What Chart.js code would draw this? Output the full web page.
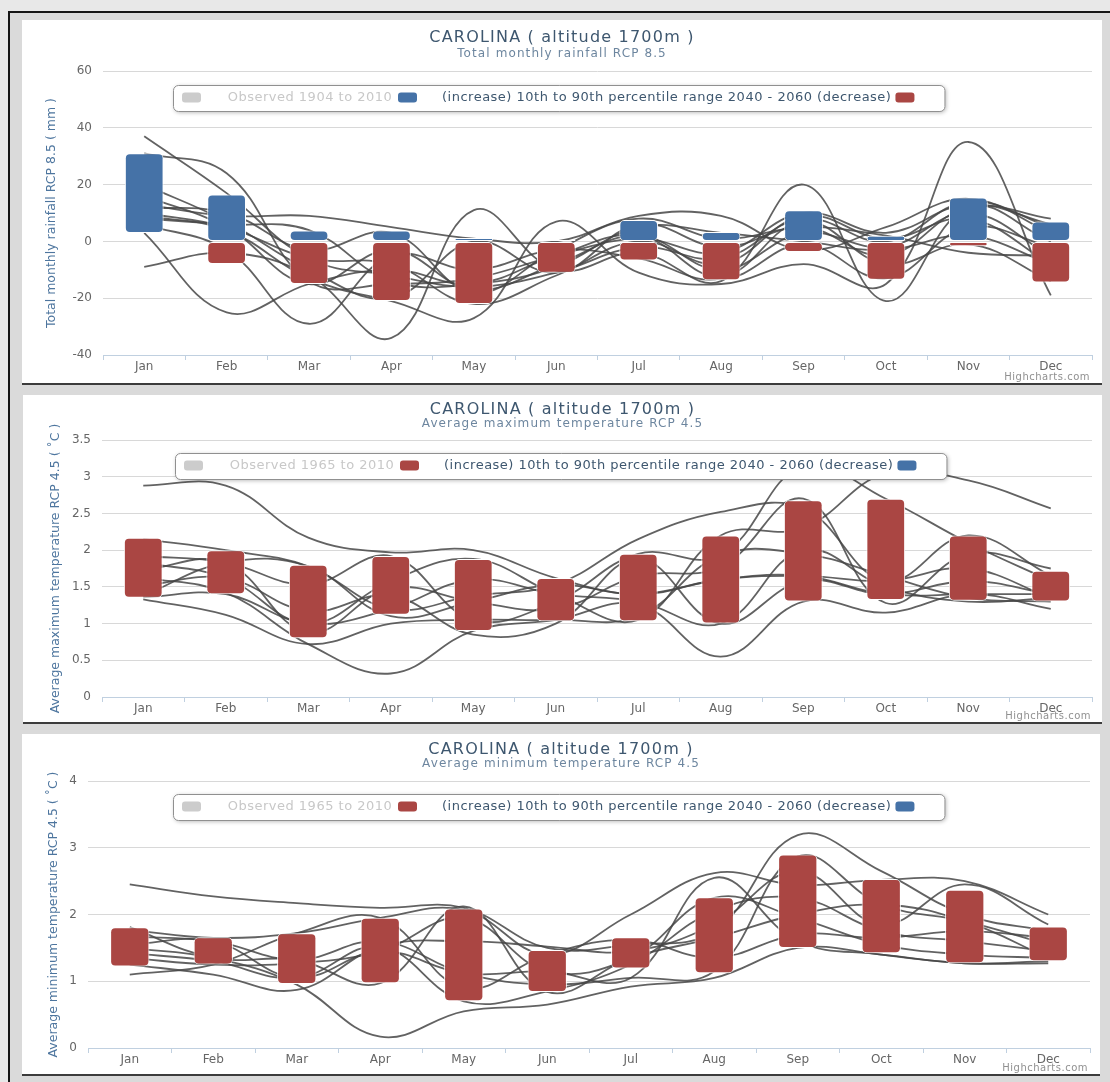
<!DOCTYPE html>
<html>
<head>
<meta charset="utf-8">
<script src="https://cdn.jsdelivr.net/npm/chart.js@4.4.1/dist/chart.umd.min.js"></script>
<style>
body{margin:0;background:#e8e8e8;width:1110px;height:1082px;overflow:hidden;position:relative;}
#frame{position:absolute;left:8px;top:11px;width:1100px;height:1071px;background:#dadada;border-left:2px solid #151515;border-top:2px solid #151515;}
.panel{position:absolute;background:#fff;border-bottom:2px solid #3c3c3c;}
canvas{display:block;}
</style>
</head>
<body>
<div id="frame"></div>
<div class="panel" style="left:22px;top:20px;width:1080px;height:363px"><canvas id="rain" width="1080" height="363"></canvas></div>
<div class="panel" style="left:23px;top:395px;width:1079px;height:327px"><canvas id="tmax" width="1079" height="327"></canvas></div>
<div class="panel" style="left:22px;top:734px;width:1078px;height:340px"><canvas id="tmin" width="1078" height="340"></canvas></div>
<script>
var FONT = '"DejaVu Sans", Verdana, sans-serif';
var BLUE = '#4572a7';
var RED = '#aa4643';

var months = ['Jan','Feb','Mar','Apr','May','Jun','Jul','Aug','Sep','Oct','Nov','Dec'];
var rangeLabel = '(increase) 10th to 90th percentile range 2040 - 2060 (decrease)';

// rainfall RCP 8.5 (mm)
var rainIncrease = [[3,31],[0,16.5],[0,3.8],[0,3.8],[0,1.2],[0,0.5],[0,7.5],[0,3.3],[0,11],[0,2],[0,15.5],[0,7]];
var rainDecrease = [null,[-8,0],[-15,0],[-21,0],[-22,0],[-11,0],[-6.7,0],[-13.7,0],[-3.7,0],[-13.5,0],[-1.7,0],[-14.5,0]];
var rainModels = [
  [37, 17, -6, -12, -16, -11, -2, -6, 8, 0, 14, 5],
  [31, 24, -14, -15, -13, -5, 1, -4, 10, 3, 13, 6],
  [20, 7, -10, -20, 0, -11, 6, -2, 5, -5, 12, 8],
  [16, 5, -15, -3, -17, -8, 2, -10, 3, -2, 10, -5],
  [13, 9, 9, 5, 1, 0, 9, 9, -3, 5, 15, 3],
  [10, 5, -6, -8, -22, -12, 0, -8, 9, 1, 8, -8],
  [6, -3, -29, -5, -10, -3, -6, -13, 7, -8, -1, -14],
  [3, -25, -15, -10, -15, -5, 2, -13, -1, -13, 5, -2],
  [-9, -4, -12, -34, 11, -10, -4, -14, 20, -21, 12, 0],
  [9, 4, -13, -21, -27, 7, -11, -15, -8, -15, 35, -19],
  [8, 6, 4, -14, -15, -9, 5, 3, 0, -3, 2, -8],
  [12, 10, -3, 3, -18, -3, 8, 1, 5, 2, -4, -5]
];

// average maximum temperature RCP 4.5 (C)
var tmaxIncrease = [[1.35,2.17],[1.4,2.0],[0.8,1.8],[1.12,1.92],[0.9,1.88],[1.03,1.62],[1.03,1.95],[1.0,2.2],[1.3,2.68],[1.32,2.7],[1.31,2.2],[1.3,1.72]];
var tmaxModels = [
  [2.88, 2.88, 2.17, 1.97, 2.0, 1.62, 1.4, 1.6, 1.65, 1.4, 1.4, 1.4],
  [2.15, 2.0, 1.78, 1.2, 1.38, 1.53, 2.15, 2.52, 2.57, 1.58, 2.2, 1.65],
  [1.92, 1.83, 1.53, 1.92, 1.05, 1.3, 1.95, 1.93, 3.15, 2.7, 2.1, 1.58],
  [1.83, 1.62, 1.0, 1.58, 1.88, 1.4, 1.05, 2.2, 2.3, 3.05, 2.95, 2.57],
  [1.73, 1.83, 0.88, 1.48, 1.3, 1.2, 1.65, 1.77, 2.7, 1.28, 1.95, 1.75],
  [1.63, 1.42, 0.72, 0.32, 0.9, 1.05, 1.26, 0.55, 1.3, 1.15, 1.4, 1.2],
  [1.52, 1.62, 1.17, 1.38, 0.85, 1.0, 1.88, 1.0, 1.58, 1.4, 1.58, 1.4],
  [1.38, 1.83, 1.78, 1.1, 1.3, 1.53, 1.4, 1.6, 1.65, 1.58, 1.75, 1.35],
  [1.33, 1.12, 0.72, 1.0, 1.05, 1.05, 1.1, 1.93, 1.95, 1.65, 1.35, 1.3],
  [1.36, 1.4, 1.0, 1.2, 1.6, 1.4, 1.3, 1.0, 2.0, 1.5, 1.3, 1.35]
];

// average minimum temperature RCP 4.5 (C)
var tminIncrease = [[1.22,1.81],[1.25,1.66],[0.96,1.72],[0.97,1.95],[0.7,2.09],[0.84,1.47],[1.19,1.66],[1.12,2.26],[1.5,2.9],[1.42,2.53],[1.27,2.37],[1.3,1.82]];
var tminModels = [
  [2.45, 2.27, 2.17, 2.1, 2.1, 1.5, 1.55, 1.75, 3.19, 2.65, 2.0, 1.75],
  [1.77, 1.65, 1.72, 1.95, 2.07, 1.4, 2.0, 2.62, 2.44, 2.52, 2.5, 2.0],
  [1.67, 1.6, 1.32, 1.6, 1.12, 0.95, 1.05, 1.15, 2.87, 2.15, 1.9, 1.55],
  [1.5, 1.35, 0.95, 0.17, 0.55, 0.65, 0.92, 1.05, 1.5, 1.4, 1.27, 1.3],
  [1.42, 1.3, 1.05, 1.52, 0.7, 0.85, 1.25, 2.05, 2.25, 1.75, 1.6, 1.45],
  [1.35, 1.25, 1.27, 1.45, 1.95, 1.15, 1.35, 2.25, 1.95, 1.55, 1.4, 1.35],
  [1.25, 1.1, 0.87, 1.52, 1.6, 1.52, 1.45, 1.85, 2.65, 1.85, 2.45, 1.85],
  [1.1, 1.25, 1.72, 1.95, 0.9, 1.4, 1.62, 1.35, 1.7, 1.65, 1.75, 1.65],
  [1.55, 1.6, 1.05, 1.45, 1.12, 1.15, 1.05, 2.55, 1.6, 1.4, 1.27, 1.27],
  [1.81, 1.35, 1.32, 0.97, 2.12, 0.84, 1.35, 1.65, 2.0, 2.15, 1.9, 1.35]
];

Chart.defaults.font.family = FONT;
Chart.defaults.color = '#666';

// title, subtitle, floating legend and credits, drawn on top
var decor = {
  id: 'decor',
  afterDraw: function(chart, args, o) {
    var ctx = chart.ctx, cx = chart.width / 2;
    ctx.save();
    ctx.textAlign = 'center';
    ctx.textBaseline = 'middle';
    ctx.letterSpacing = '1.2px';
    ctx.font = '16px ' + FONT;
    ctx.fillStyle = '#3e576f';
    ctx.fillText(o.title, cx, o.titleY);
    ctx.letterSpacing = '1.1px';
    ctx.font = '12px ' + FONT;
    ctx.fillStyle = '#6d869f';
    ctx.fillText(o.subtitle, cx, o.subY);

    ctx.letterSpacing = '0.5px';
    ctx.font = '13px ' + FONT;
    var x0 = o.legX, y0 = o.legY, h = 26, cy = y0 + 12.5;
    var tw = ctx.measureText(rangeLabel).width;
    var s2 = x0 + 225, t2 = s2 + 44, s3 = t2 + tw + 4, x1 = s3 + 19 + 30;
    ctx.save();
    ctx.shadowColor = 'rgba(0,0,0,0.3)';
    ctx.shadowBlur = 4;
    ctx.shadowOffsetX = 1;
    ctx.shadowOffsetY = 1;
    ctx.beginPath();
    ctx.roundRect(x0 + 0.5, y0 + 0.5, x1 - x0, h, 5);
    ctx.fillStyle = '#fff';
    ctx.fill();
    ctx.restore();
    ctx.beginPath();
    ctx.roundRect(x0 + 0.5, y0 + 0.5, x1 - x0, h, 5);
    ctx.strokeStyle = '#909090';
    ctx.lineWidth = 1;
    ctx.stroke();
    function sym(x, c) {
      ctx.beginPath();
      ctx.roundRect(x, cy - 5, 19, 10, 3);
      ctx.fillStyle = c;
      ctx.fill();
    }
    sym(x0 + 9, '#cccccc');
    sym(s2, o.first);
    sym(s3, o.second);
    ctx.fillStyle = '#c8c8c8';
    ctx.textAlign = 'center';
    ctx.fillText(o.observed, x0 + 137, cy);
    ctx.fillStyle = '#3e576f';
    ctx.textAlign = 'left';
    ctx.fillText(rangeLabel, t2, cy);

    ctx.letterSpacing = '0.5px';
    ctx.font = '10px ' + FONT;
    ctx.fillStyle = '#909090';
    ctx.textAlign = 'right';
    ctx.fillText('Highcharts.com', o.credX, o.credY);
    ctx.restore();
  }
};

function makeChart(id, cfg) {
  var datasets = [];
  cfg.bars.forEach(function(b) {
    datasets.push({
      type: 'bar', data: b.data, backgroundColor: b.color,
      borderColor: '#fff', borderWidth: 1, borderRadius: 5, borderSkipped: false,
      grouped: false, barPercentage: 0.47, categoryPercentage: 1, order: 0
    });
  });
  cfg.models.forEach(function(m) {
    datasets.push({
      type: 'line', data: m, borderColor: 'rgba(70,70,70,0.85)', borderWidth: 1.8,
      pointRadius: 0, tension: 0.4, fill: false, order: 1
    });
  });
  return new Chart(document.getElementById(id), {
    type: 'bar',
    data: { labels: months, datasets: datasets },
    options: {
      responsive: false,
      animation: false,
      events: [],
      layout: { padding: { left: 0, right: 10, top: cfg.top, bottom: 0 } },
      plugins: { legend: { display: false }, tooltip: { enabled: false }, decor: cfg.decor },
      scales: {
        x: {
          grid: { offset: true, drawOnChartArea: false, drawTicks: true, tickLength: 5, color: '#c0d0e0' },
          border: { color: '#c0d0e0' },
          ticks: { padding: 0, color: '#666', font: { size: 12 }, maxRotation: 0, autoSkip: false },
          afterFit: function(s) { s.height = cfg.xH; }
        },
        y: {
          min: cfg.min, max: cfg.max,
          ticks: { stepSize: cfg.step, padding: 11, color: '#666', font: { size: 12 }, callback: function(v) { return String(v); } },
          grid: { color: '#d8d8d8', drawTicks: false },
          border: { display: false },
          title: { display: true, text: cfg.yTitle, color: '#4d759e', font: { size: 12.5 }, padding: { top: cfg.yTitlePad, bottom: 0 } },
          afterFit: function(s) { s.width = cfg.left; }
        }
      }
    },
    plugins: [decor]
  });
}

makeChart('rain', {
  bars: [{ data: rainIncrease, color: BLUE }, { data: rainDecrease, color: RED }],
  models: rainModels,
  min: -40, max: 60, step: 20,
  top: 51, xH: 28, left: 81, yTitlePad: 22,
  yTitle: 'Total monthly rainfall RCP 8.5 ( mm )',
  decor: { title: 'CAROLINA ( altitude 1700m )', subtitle: 'Total monthly rainfall RCP 8.5', titleY: 18, subY: 34,
    observed: 'Observed 1904 to 2010', first: BLUE, second: RED, legX: 151, legY: 65, credX: 1068, credY: 357 }
});

makeChart('tmax', {
  bars: [{ data: tmaxIncrease, color: RED }],
  models: tmaxModels,
  min: 0, max: 3.5, step: 0.5,
  top: 45, xH: 25, left: 79, yTitlePad: 25,
  yTitle: 'Average maximum temperature RCP 4.5 ( ˚C )',
  decor: { title: 'CAROLINA ( altitude 1700m )', subtitle: 'Average maximum temperature RCP 4.5', titleY: 15, subY: 29,
    observed: 'Observed 1965 to 2010', first: RED, second: BLUE, legX: 152, legY: 58, credX: 1068, credY: 321 }
});

makeChart('tmin', {
  bars: [{ data: tminIncrease, color: RED }],
  models: tminModels,
  min: 0, max: 4, step: 1,
  top: 47, xH: 26, left: 66, yTitlePad: 24,
  yTitle: 'Average minimum temperature RCP 4.5 ( ˚C )',
  decor: { title: 'CAROLINA ( altitude 1700m )', subtitle: 'Average minimum temperature RCP 4.5', titleY: 16, subY: 30,
    observed: 'Observed 1965 to 2010', first: RED, second: BLUE, legX: 151, legY: 60, credX: 1066, credY: 334 }
});
</script>
</body>
</html>
